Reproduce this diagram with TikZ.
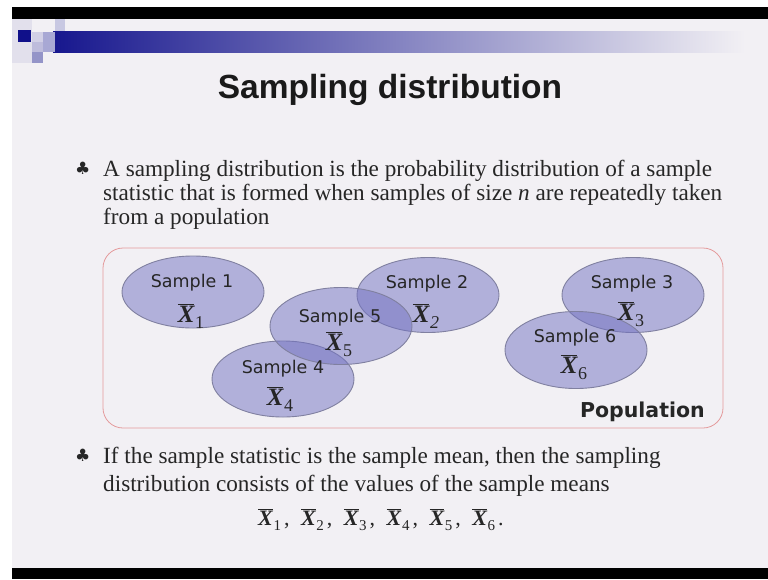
\documentclass[tikz,border=0pt]{standalone}
\usepackage{fontspec}
\setmainfont{Liberation Serif}
\newfontfamily\sansf{DejaVu Sans}
\newfontfamily\titlef{Liberation Sans}
\newfontfamily\symf{DejaVu Sans}
\usetikzlibrary{shapes.geometric}
\definecolor{bg}{HTML}{F2F0F4}
\definecolor{navyc}{HTML}{17178E}
\definecolor{txt}{HTML}{262626}
\definecolor{titletxt}{HTML}{1A1A1A}
\definecolor{ellfill}{HTML}{7272C2}
\definecolor{elldraw}{HTML}{8080A0}
\definecolor{popdraw}{HTML}{E49A9C}
\definecolor{hA}{HTML}{E2E0EC}
\definecolor{hB}{HTML}{C8C8E2}
\definecolor{hC}{HTML}{D2D0E6}
\definecolor{hD}{HTML}{BEBCDC}
\definecolor{hE}{HTML}{A8A8D4}
\definecolor{hF}{HTML}{9494C8}
\definecolor{hG}{HTML}{10108A}
\newcommand{\Xb}[3]{\begingroup\fontsize{#1}{#1}\selectfont$\overline{\hbox{\bfseries\itshape X}}$\kern0.03em\raisebox{-0.26em}{\fontsize{#2}{#2}\selectfont #3}\endgroup}
\newcommand{\Xm}[1]{\Xb{22}{15}{#1}}
\newcommand{\sep}{\kern3pt,\kern11.5pt}
\tikzset{
  samp/.style={ellipse, inner sep=0pt, fill=ellfill, fill opacity=0.5, draw=elldraw, draw opacity=1, line width=0.9pt, minimum width=142pt},
  slabel/.style={anchor=base, text=txt, inner sep=0pt, font=\sansf\fontsize{17.5}{17.5}\selectfont},
  xlabel/.style={anchor=base, text=txt, inner sep=0pt},
  btext/.style={anchor=base west, text=txt, inner sep=0pt, font=\fontsize{23.2}{23.2}\selectfont},
  club/.style={anchor=base west, text=txt, inner sep=0pt, font=\symf\fontsize{17}{17}\selectfont}
}
\begin{document}
\begin{tikzpicture}[x=1pt,y=-1pt]
\useasboundingbox (0,0) rectangle (768,579);
\fill[white] (0,0) rectangle (768,579);
\fill[bg] (12,7) rectangle (768,568);
\fill[black] (12,7) rectangle (768,19);
\fill[black] (12,568) rectangle (768,579);
% header decoration
\fill[hA] (12,19) rectangle (32,63);
\shade[left color=navyc, right color=bg] (53,31) rectangle (745,52);
\fill[hB] (55,19) rectangle (65,31);
\fill[hC] (32,32) rectangle (43,42);
\fill[hD] (32,42) rectangle (43,52);
\fill[hE] (43,32) rectangle (55,52);
\fill[hF] (32,52) rectangle (43,63);
\fill[hG] (18,30) rectangle (31,42);
% title
\node[anchor=base, inner sep=0pt, text=titletxt] (title) at (390,98) {\titlef\bfseries\fontsize{33.5}{33.5}\selectfont Sampling distribution};
% bullet 1
\node[club] (c1) at (75,174) {♣};
\node[btext] (b1a) at (103,176) {A sampling distribution is the probability distribution of a sample};
\node[btext] (b1b) at (103,200) {statistic that is formed when samples of size \textit{n} are repeatedly taken};
\node[btext] (b1c) at (103,224) {from a population};
% population
\node[draw=popdraw, line width=0.8pt, rounded corners=20pt, minimum width=620pt, minimum height=180pt, inner sep=0pt] (pop) at (413,338) {};
\node[anchor=base east, inner sep=0pt, text=txt] (poplabel) at (705,417) {\sansf\bfseries\fontsize{20.5}{20.5}\selectfont Population};
% ellipses
\node[samp, minimum height=72pt] (e1) at (193,292) {};
\node[samp, minimum height=75pt] (e2) at (428,295) {};
\node[samp, minimum height=75pt] (e3) at (633,295) {};
\node[samp, minimum height=76pt] (e4) at (283,379) {};
\node[samp, minimum height=77pt] (e5) at (341,326) {};
\node[samp, minimum height=77pt] (e6) at (576,350) {};
% labels
\node[slabel] (s1) at (192,287) {Sample 1};
\node[xlabel] (x1) at (191,322) {\Xb{25}{18}{1}};
\node[slabel] (s2) at (427,288) {Sample 2};
\node[xlabel] (x2) at (426,322) {\Xb{25}{18}{\itshape 2}};
\node[slabel] (s3) at (632,288) {Sample 3};
\node[xlabel] (x3) at (631,320) {\Xb{25}{18}{3}};
\node[slabel] (s4) at (283,373) {Sample 4};
\node[xlabel] (x4) at (280,405) {\Xb{25}{18}{4}};
\node[slabel] (s5) at (340,322) {Sample 5};
\node[xlabel] (x5) at (339,350) {\Xb{25}{18}{5}};
\node[slabel] (s6) at (575,342) {Sample 6};
\node[xlabel] (x6) at (574,373) {\Xb{25}{18}{6}};
% bullet 2
\node[club] (c2) at (75,461) {♣};
\node[btext] (b2a) at (103,463) {If the sample statistic is the sample mean, then the sampling};
\node[btext] (b2b) at (103,491) {distribution consists of the values of the sample means};
\node[anchor=base west, inner sep=0pt, text=txt, font=\fontsize{22}{22}\selectfont] (means) at (258,525) {\Xm{1}\sep\Xm{2}\sep\Xm{3}\sep\Xm{4}\sep\Xm{5}\sep\Xm{6}\kern3pt.};
\end{tikzpicture}
\end{document}
